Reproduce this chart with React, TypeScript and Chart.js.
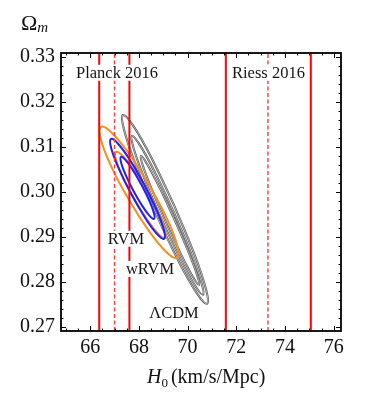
import React, { useEffect, useRef } from "react";
import { Chart, registerables } from "chart.js";
Chart.register(...registerables);

// Axis ranges and tick values
const X_MIN = 64.8;
const X_MAX = 76.3;
const Y_MIN = 0.269;
const Y_MAX = 0.3308;
const xTicks = [66, 68, 70, 72, 74, 76];
const yTicks = [0.27, 0.28, 0.29, 0.3, 0.31, 0.32, 0.33];
const xMinorStep = 0.5;
const yMinorStep = 0.002;

// H0 bands (lower, central, upper)
const planckH0 = [66.37, 67.0, 67.61];
const riessH0 = [71.57, 73.3, 75.06];

// Contours (H0, Omega_m)
const lcdm3: [number, number][] = [
  [69.446, 0.29694], [68.534, 0.30731], [67.765, 0.31466], [67.346, 0.31702],
  [67.389, 0.31376], [67.883, 0.30575], [68.696, 0.29514], [69.608, 0.28477],
  [70.377, 0.27742], [70.796, 0.27506], [70.753, 0.27832], [70.259, 0.28633],
];
const lcdm2: [number, number][] = [
  [69.437, 0.29534], [68.673, 0.30409], [68.043, 0.31031], [67.716, 0.31236],
  [67.78, 0.30968], [68.217, 0.30299], [68.911, 0.29408], [69.675, 0.28533],
  [70.305, 0.27911], [70.632, 0.27706], [70.568, 0.27974], [70.131, 0.28643],
];
const lcdm1: [number, number][] = [
  [69.445, 0.29401], [68.827, 0.30111], [68.329, 0.3062], [68.085, 0.30792],
  [68.16, 0.3058], [68.534, 0.30041], [69.107, 0.29319], [69.725, 0.28609],
  [70.223, 0.281], [70.467, 0.27928], [70.392, 0.2814], [70.018, 0.28679],
];
const wrvm2: [number, number][] = [
  [68.447, 0.30122], [67.607, 0.30831], [66.873, 0.31313], [66.442, 0.31438],
  [66.429, 0.31173], [66.838, 0.30589], [67.559, 0.29843], [68.399, 0.29133],
  [69.133, 0.28651], [69.564, 0.28526], [69.577, 0.28791], [69.168, 0.29375],
];
const wrvm1: [number, number][] = [
  [68.332, 0.30011], [67.793, 0.30477], [67.327, 0.30796], [67.059, 0.30882],
  [67.061, 0.30712], [67.331, 0.30332], [67.799, 0.29843], [68.337, 0.29377],
  [68.803, 0.29058], [69.071, 0.28972], [69.069, 0.29142], [68.799, 0.29522],
];
const rvm2: [number, number][] = [
  [68.232, 0.30143], [67.65, 0.30687], [67.145, 0.31063], [66.854, 0.3117],
  [66.855, 0.3098], [67.147, 0.30543], [67.652, 0.29977], [68.235, 0.29433],
  [68.739, 0.29058], [69.03, 0.2895], [69.029, 0.29141], [68.738, 0.29577],
];
const rvm1: [number, number][] = [
  [68.124, 0.30134], [67.76, 0.30471], [67.446, 0.30704], [67.264, 0.3077],
  [67.264, 0.30652], [67.446, 0.30381], [67.761, 0.3003], [68.124, 0.29693],
  [68.438, 0.2946], [68.62, 0.29394], [68.62, 0.29512], [68.438, 0.29783],
];

// Text labels in data coordinates
const labelTexts = ["Planck 2016", "Riess 2016", "RVM", "wRVM", "\u039BCDM"];
const labelX = [67.1, 73.32, 67.47, 68.455, 69.44];
const labelY = [0.3264, 0.3264, 0.2895, 0.2828, 0.27304];

const SERIF = "'Liberation Serif', 'Times New Roman', serif";
const ORANGE = "#fb8c1e";
const BLUE = "#1f1fff";
const RED = "#ff0000";
const BLACK_LINE = "#505050";

const loop = (arr: [number, number][]) =>
  [...arr, arr[0]].map(([x, y]) => ({ x, y }));

const vline = (x: number) => [
  { x, y: Y_MIN },
  { x, y: Y_MAX },
];

const framePlugin = {
  id: "frameTicks",
  afterDraw(chart: any) {
    const ctx = chart.ctx;
    const { left, right, top, bottom } = chart.chartArea;
    const xs = chart.scales.x;
    const ys = chart.scales.y;
    ctx.save();
    ctx.strokeStyle = "#000";
    ctx.lineWidth = 1;
    for (let v = Math.ceil(X_MIN / xMinorStep) * xMinorStep; v <= X_MAX + 1e-9; v += xMinorStep) {
      const px = Math.round(xs.getPixelForValue(v)) + 0.5;
      const major = Math.abs(v / 2 - Math.round(v / 2)) < 1e-6;
      const len = major ? 5 : 2.5;
      ctx.beginPath();
      ctx.moveTo(px, bottom);
      ctx.lineTo(px, bottom - len);
      ctx.moveTo(px, top);
      ctx.lineTo(px, top + len);
      ctx.stroke();
    }
    for (let i = Math.ceil(Y_MIN / yMinorStep - 1e-6); i * yMinorStep <= Y_MAX + 1e-9; i++) {
      const v = i * yMinorStep;
      const py = Math.round(ys.getPixelForValue(v)) + 0.5;
      const major = i % 5 === 0;
      const len = major ? 5 : 2.5;
      ctx.beginPath();
      ctx.moveTo(left, py);
      ctx.lineTo(left + len, py);
      ctx.moveTo(right, py);
      ctx.lineTo(right - len, py);
      ctx.stroke();
    }
    ctx.lineWidth = 1.8;
    ctx.strokeRect(left, top, right - left, bottom - top);

    ctx.fillStyle = "#111";
    ctx.textBaseline = "alphabetic";
    ctx.textAlign = "left";
    let tx = left + 86;
    const ty = 383;
    ctx.font = `italic 20px ${SERIF}`;
    ctx.fillText("H", tx, ty);
    tx += ctx.measureText("H").width;
    ctx.font = `13px ${SERIF}`;
    ctx.fillText("0", tx, ty + 4);
    tx += ctx.measureText("0").width + 3;
    ctx.font = `20px ${SERIF}`;
    ctx.fillText("(km/s/Mpc)", tx, ty);

    let ox = 21;
    const oy = 30;
    ctx.font = `22px ${SERIF}`;
    ctx.fillText("\u03A9", ox, oy);
    ox += ctx.measureText("\u03A9").width;
    ctx.font = `italic 15px ${SERIF}`;
    ctx.fillText("m", ox, oy + 2);
    ctx.restore();
  },
  afterDatasetsDraw(chart: any) {
    const ctx = chart.ctx;
    const xs = chart.scales.x;
    const ys = chart.scales.y;
    ctx.save();
    ctx.font = `16.5px ${SERIF}`;
    ctx.textAlign = "center";
    ctx.textBaseline = "middle";
    labelTexts.forEach((t, i) => {
      const px = xs.getPixelForValue(labelX[i]);
      const py = ys.getPixelForValue(labelY[i]);
      const w = ctx.measureText(t).width;
      ctx.fillStyle = "#fff";
      ctx.fillRect(px - w / 2 - 1, py - 8, w + 2, 16);
      ctx.fillStyle = "#151515";
      ctx.fillText(t, px, py + 1);
    });
    ctx.restore();
  },
};

export default function App() {
  const ref = useRef<HTMLCanvasElement | null>(null);
  useEffect(() => {
    document.body.style.margin = "0";
    if (!ref.current) return;
    const redSolid = (x: number) => ({
      data: vline(x),
      borderColor: RED,
      borderWidth: 2,
      pointRadius: 0,
      tension: 0,
    });
    const redDash = (x: number) => ({
      data: vline(x),
      borderColor: "#ff3a3a",
      borderWidth: 1.4,
      borderDash: [4, 2.5],
      pointRadius: 0,
      tension: 0,
    });
    const contour = (arr: [number, number][], color: string, width: number) => ({
      data: loop(arr),
      borderColor: color,
      borderWidth: width,
      pointRadius: 0,
      tension: 0.4,
    });
    const datasets: any[] = [
      redSolid(planckH0[0]),
      redDash(planckH0[1]),
      redSolid(planckH0[2]),
      redSolid(riessH0[0]),
      redDash(riessH0[1]),
      redSolid(riessH0[2]),
      contour(rvm1, BLUE, 2),
      contour(rvm2, BLUE, 2),
      contour(wrvm1, ORANGE, 2),
      contour(wrvm2, ORANGE, 2),
      contour(lcdm1, "#ffffff", 0.6),
      contour(lcdm1, BLACK_LINE, 2.1),
      contour(lcdm2, "#ffffff", 0.6),
      contour(lcdm2, BLACK_LINE, 2.1),
      contour(lcdm3, "#ffffff", 0.6),
      contour(lcdm3, BLACK_LINE, 2.1),
    ];
    const chart = new Chart(ref.current, {
      type: "line",
      data: { datasets },
      options: {
        animation: false,
        responsive: false,
        maintainAspectRatio: false,
        events: [],
        layout: { padding: { left: 0, right: 33, top: 53, bottom: 0 } },
        plugins: { legend: { display: false }, tooltip: { enabled: false } },
        scales: {
          x: {
            type: "linear",
            min: X_MIN,
            max: X_MAX,
            afterBuildTicks: (s: any) => {
              s.ticks = xTicks.map((v) => ({ value: v }));
            },
            afterFit: (s: any) => {
              s.height = 65;
            },
            grid: { display: false, drawTicks: false },
            border: { display: false },
            ticks: {
              autoSkip: false,
              maxRotation: 0,
              padding: 5,
              color: "#111",
              font: { family: SERIF, size: 20 },
              callback: (v: any) => String(v),
            },
          },
          y: {
            type: "linear",
            min: Y_MIN,
            max: Y_MAX,
            afterBuildTicks: (s: any) => {
              s.ticks = yTicks.map((v) => ({ value: v }));
            },
            afterFit: (s: any) => {
              s.width = 61;
            },
            grid: { display: false, drawTicks: false },
            border: { display: false },
            ticks: {
              autoSkip: false,
              padding: 6,
              color: "#111",
              font: { family: SERIF, size: 20 },
              callback: (v: any) => Number(v).toFixed(2),
            },
          },
        },
      },
      plugins: [framePlugin],
    });
    return () => chart.destroy();
  }, []);
  return (
    <div style={{ position: "absolute", left: 0, top: 0, width: 374, height: 396, background: "#fff" }}>
      <canvas ref={ref} width={374} height={396} />
    </div>
  );
}
